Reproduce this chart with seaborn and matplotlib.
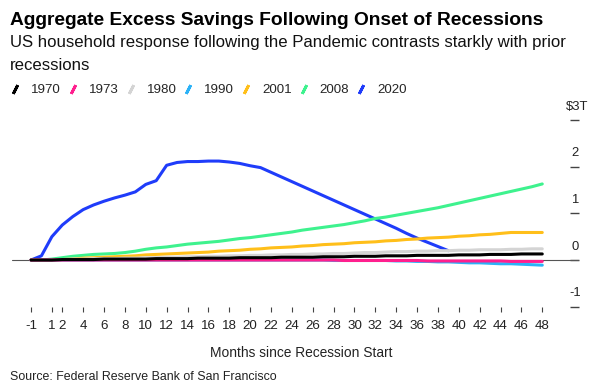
import numpy as np
import pandas as pd
import matplotlib
matplotlib.use("Agg")
import matplotlib.pyplot as plt
import seaborn as sns
from matplotlib.lines import Line2D
from matplotlib.transforms import offset_copy

months = list(range(-1, 49))

s1970 = [0, 0, 0, 0.01, 0.01, 0.01, 0.01, 0.02, 0.02, 0.02, 0.02, 0.02, 0.03, 0.03, 0.03, 0.03, 0.04,
         0.04, 0.04, 0.04, 0.05, 0.05, 0.05, 0.05, 0.06, 0.06, 0.06, 0.06, 0.07, 0.07, 0.07, 0.08, 0.08,
         0.08, 0.09, 0.09, 0.09, 0.10, 0.10, 0.10, 0.10, 0.11, 0.11, 0.11, 0.12, 0.12, 0.12, 0.13, 0.13, 0.13]
s1973 = [0, 0, 0, 0, 0, 0, 0, 0, 0, 0, 0, 0, 0, 0, 0, 0, 0,
         0, 0, 0, 0, 0, 0, 0, 0, 0, 0, 0, 0, 0, -0.01, -0.01, -0.01,
         -0.01, -0.01, -0.01, -0.01, -0.01, -0.02, -0.02, -0.02, -0.02, -0.02, -0.02, -0.02, -0.02, -0.03, -0.03, -0.03, -0.03]
s1980 = [0, 0, 0.01, 0.01, 0.02, 0.02, 0.03, 0.03, 0.03, 0.04, 0.04, 0.05, 0.05, 0.06, 0.06, 0.07, 0.07,
         0.08, 0.08, 0.09, 0.09, 0.10, 0.10, 0.11, 0.11, 0.12, 0.12, 0.13, 0.13, 0.14, 0.14, 0.15, 0.16,
         0.16, 0.17, 0.18, 0.18, 0.19, 0.19, 0.20, 0.20, 0.21, 0.21, 0.22, 0.22, 0.22, 0.23, 0.23, 0.24, 0.24]
s1990 = [0, 0, 0, 0, 0, 0, 0, 0, 0, 0, 0, 0, 0, 0, 0, 0, 0,
         0, 0, 0, 0, 0, 0, 0, 0, 0, 0, 0, 0, -0.01, -0.01, -0.01, -0.01,
         -0.01, -0.01, -0.02, -0.02, -0.03, -0.03, -0.04, -0.04, -0.05, -0.06, -0.06, -0.07, -0.08, -0.08, -0.09, -0.10, -0.11]
s2001 = [0, 0, 0, 0.01, 0.02, 0.04, 0.05, 0.06, 0.07, 0.08, 0.09, 0.11, 0.12, 0.13, 0.14, 0.15, 0.16,
         0.17, 0.19, 0.20, 0.21, 0.23, 0.24, 0.26, 0.27, 0.28, 0.30, 0.31, 0.33, 0.34, 0.35, 0.37, 0.38,
         0.39, 0.41, 0.42, 0.44, 0.45, 0.47, 0.48, 0.49, 0.51, 0.52, 0.54, 0.55, 0.57, 0.59, 0.59, 0.59, 0.59]
s2008 = [0, 0, 0.02, 0.05, 0.08, 0.10, 0.12, 0.13, 0.14, 0.16, 0.19, 0.23, 0.26, 0.28, 0.31, 0.34, 0.36,
         0.38, 0.40, 0.43, 0.46, 0.48, 0.51, 0.54, 0.57, 0.60, 0.64, 0.67, 0.70, 0.73, 0.76, 0.80, 0.84,
         0.89, 0.92, 0.96, 1.00, 1.04, 1.08, 1.12, 1.17, 1.22, 1.27, 1.32, 1.37, 1.42, 1.47, 1.52, 1.57, 1.63]
# 2020 series stops at month 39
s2020 = [0, 0.09, 0.50, 0.75, 0.93, 1.08, 1.18, 1.26, 1.33, 1.39, 1.46, 1.62, 1.70, 2.03, 2.09, 2.11, 2.11,
         2.12, 2.12, 2.10, 2.07, 2.02, 1.98, 1.88, 1.78, 1.68, 1.58, 1.48, 1.38, 1.28, 1.18, 1.08, 0.98,
         0.88, 0.78, 0.68, 0.57, 0.47, 0.38, 0.29, 0.20]

years = ["1970", "1973", "1980", "1990", "2001", "2008", "2020"]
colors = ["#000000", "#ff1f8e", "#d4d4d4", "#2bb2f7", "#ffbf1a", "#3ef28e", "#1f3cfa"]
series = [s1970, s1973, s1980, s1990, s2001, s2008, s2020]

rows = []
for yr, vals in zip(years, series):
    for m, v in zip(months, vals):
        rows.append({"month": m, "value": v, "year": yr})
df = pd.DataFrame(rows)

sns.set_theme(style="white")
plt.rcParams["font.family"] = ["Liberation Sans", "DejaVu Sans"]

W, H = 590, 383
fig = plt.figure(figsize=(W / 100, H / 100), dpi=100)
ax = fig.add_axes([12 / W, 1 - 306.7 / H, (579 - 12) / W, (306.7 - 120) / H])

ax.axhline(0, color="#555555", lw=0.8, zorder=1)

# reverse order so black sits on top
sns.lineplot(data=df, x="month", y="value", hue="year", hue_order=years[::-1],
             palette=dict(zip(years, colors)), linewidth=2.2, legend=False, ax=ax, zorder=2)

ax.set_xlim(-2.82, 51.52)
ax.set_ylim(-1, 3)
for sp in ax.spines.values():
    sp.set_visible(False)

xticks = [-1, 1] + list(range(2, 49, 2))
ax.set_xticks(xticks)
ax.set_xticklabels([str(t) for t in xticks])
ax.tick_params(axis="x", bottom=True, direction="out", length=3.4, width=0.8,
               color="#444444", labelsize=9.6, pad=6, labelcolor="#222222")

yticks = [-1, 0, 1, 2, 3]
ylabels = ["-1", "0", "1", "2", "$3T"]
ax.set_yticks(yticks)
ax.tick_params(axis="y", left=False, right=True, labelleft=False, labelright=False,
               direction="in", length=6.5, width=1, color="#444444")
ytrans = offset_copy(ax.get_yaxis_transform(), fig=fig, y=9.7, units="points")
for v, lab in zip(yticks, ylabels):
    xpos = 0.996 if lab == "$3T" else 0.993
    ax.text(xpos, v, lab, transform=ytrans, ha="center", va="center",
            fontsize=9.4, color="#222222")
ax.set_xlabel("")
ax.set_ylabel("")

handles = [Line2D([], [], linestyle="none", marker=(2, 2, -27), markersize=7,
                  markeredgewidth=2, color=c) for c in colors]
fig.legend(handles, years, ncol=7, loc="center left",
           bbox_to_anchor=(8.7 / W, 1 - 90 / H), frameon=False, fontsize=9.6,
           handlelength=1.0, handletextpad=0.69, columnspacing=0.4,
           borderpad=0, borderaxespad=0)

fig.text(10 / W, 1 - 25 / H, "Aggregate Excess Savings Following Onset of Recessions",
         fontsize=13.8, fontweight="bold", va="baseline", color="#000000")
fig.text(10 / W, 1 - 46.7 / H,
         "US household response following the Pandemic contrasts starkly with prior",
         fontsize=12.1, va="baseline", color="#111111")
fig.text(10 / W, 1 - 70 / H, "recessions", fontsize=12.1, va="baseline", color="#111111")
fig.text(301 / W, 1 - 357 / H, "Months since Recession Start", fontsize=9.95,
         ha="center", va="baseline", color="#222222")
fig.text(10 / W, 1 - 380.5 / H, "Source: Federal Reserve Bank of San Francisco",
         fontsize=8.9, va="baseline", color="#222222")

fig.savefig("out.png", dpi=100)
